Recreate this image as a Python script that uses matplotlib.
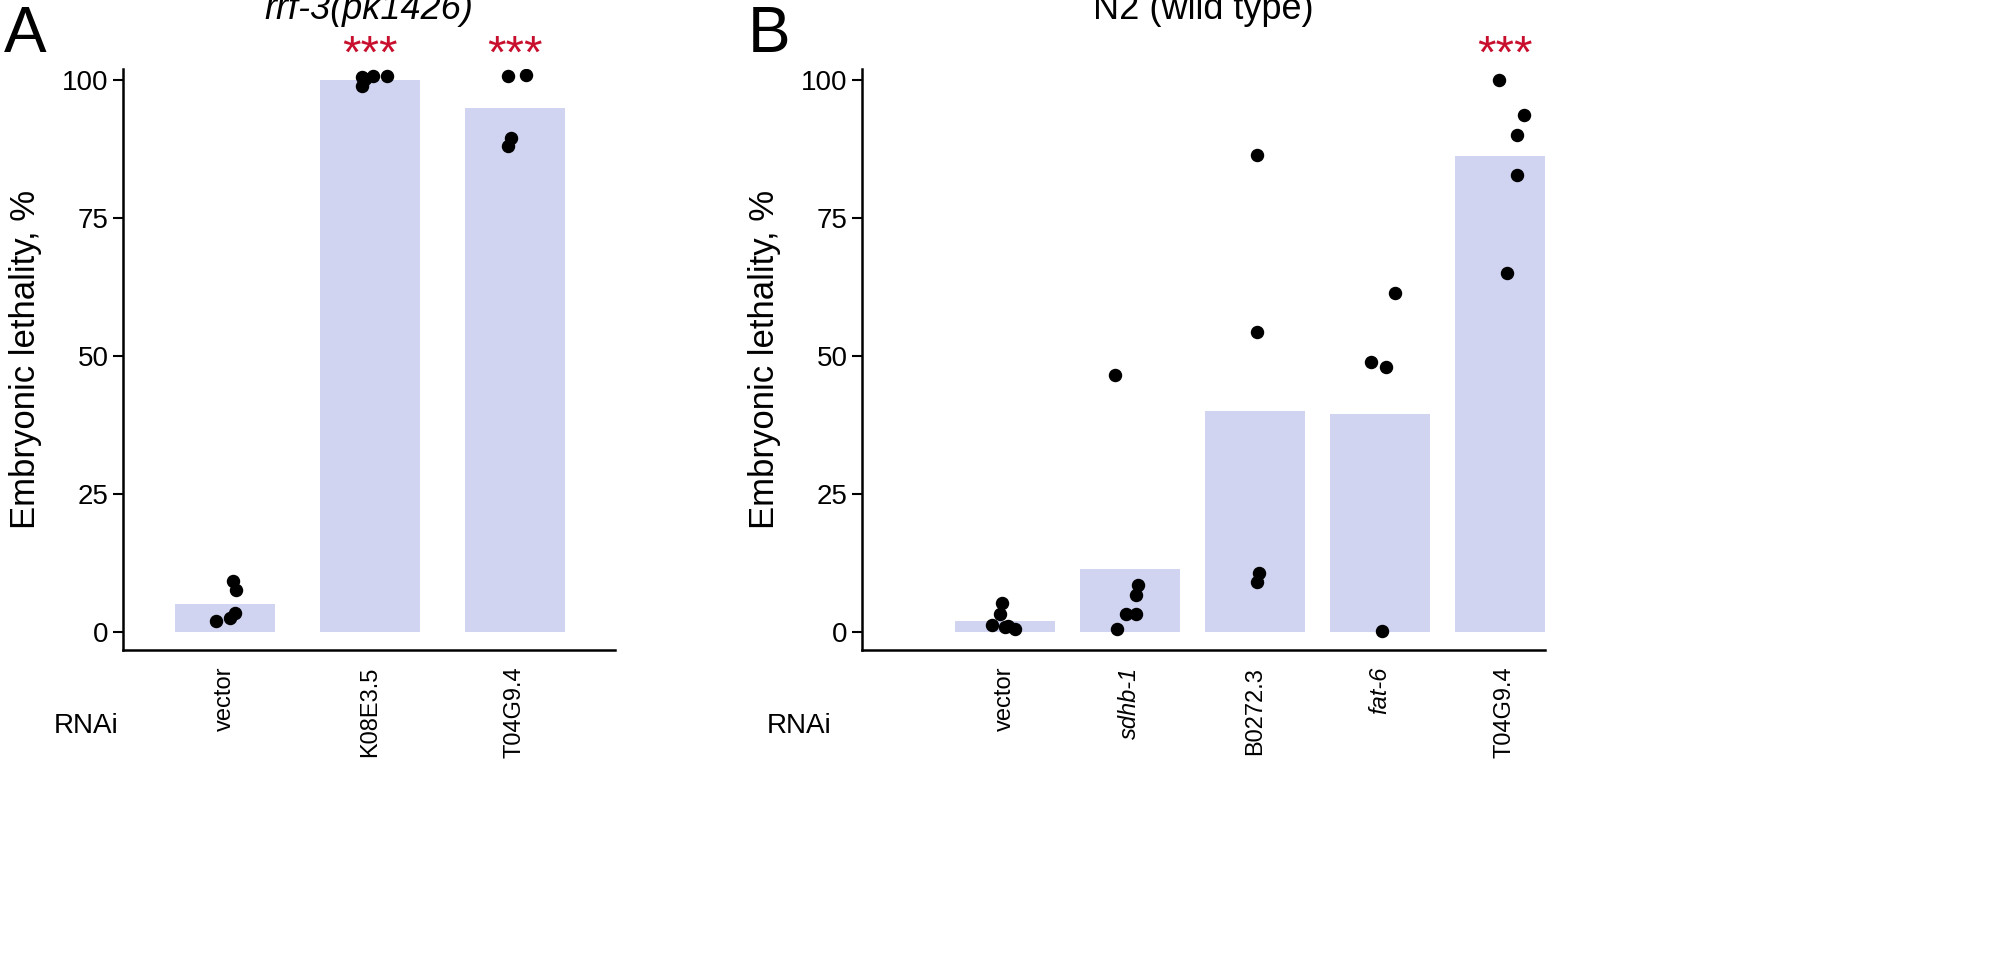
import matplotlib
matplotlib.use("Agg")
import matplotlib.pyplot as plt

plt.rcParams['font.family'] = ['Liberation Sans', 'DejaVu Sans']

a_cats = ["vector", "K08E3.5", "T04G9.4"]
a_italic = [False, False, False]
a_bars = [5, 100, 95]
a_points = [[2, 2.5, 3.5, 7.5, 9.2], [99, 100.5, 100.7, 100.8, 100.3], [88, 89.5, 100.8, 100.9]]
a_jit = [[-0.06, 0.04, 0.07, 0.08, 0.06], [-0.05, -0.05, 0.02, 0.12, -0.03], [-0.05, -0.03, -0.05, 0.08]]
a_sig = ["", "***", "***"]

b_cats = ["vector", "sdhb-1", "B0272.3", "fat-6", "T04G9.4"]
b_italic = [False, True, False, True, False]
b_bars = [2, 11.3, 40, 39.5, 86.3]
b_points = [[5.2, 3.3, 1.2, 0.9, 1.1, 0.5], [46.5, 8.5, 6.7, 3.2, 3.3, 0.6],
            [86.5, 54.4, 10.6, 9.1], [61.5, 49, 48, 0.1], [100, 93.7, 90, 82.8, 65]]
b_jit = [[-0.02, -0.04, -0.1, 0.0, 0.03, 0.08], [-0.12, 0.07, 0.05, -0.03, 0.05, -0.1],
         [0.02, 0.02, 0.03, 0.02], [0.12, -0.07, 0.05, 0.02], [-0.05, 0.15, 0.1, 0.1, 0.02]]
b_sig = ["", "", "", "", "***"]

bar_color = "#d0d4f1"

fig = plt.figure(figsize=(20, 9.68), dpi=100)

def panel(rect, cats, italic, bars, pts, jit, sig, width, xlim, title, tstyle, letter, lx):
    ax = fig.add_axes(rect)
    x = list(range(len(cats)))
    ax.bar(x, bars, width=width, color=bar_color, zorder=1)
    for i in x:
        ax.scatter([i + j for j in jit[i]], pts[i], s=75, color="black", zorder=3)
        if sig[i]:
            ax.text(i, 104.5, sig[i], color="#c8102e", ha="center", va="center",
                    fontsize=34, clip_on=False)
    ax.set_xlim(*xlim)
    ax.set_ylim(-3.3, 102)
    ax.set_yticks([0, 25, 50, 75, 100])
    ax.set_xticks(x)
    ax.set_xticklabels(cats, rotation=90, fontsize=17)
    for lab, it in zip(ax.get_xticklabels(), italic):
        if it:
            lab.set_style("italic")
    ax.tick_params(axis="y", labelsize=20, length=7, width=1.5)
    ax.tick_params(axis="x", length=0, pad=12)
    for s in ["top", "right"]:
        ax.spines[s].set_visible(False)
    for s in ["left", "bottom"]:
        ax.spines[s].set_linewidth(1.8)
    ax.set_ylabel("Embryonic lethality, %", fontsize=25, labelpad=14)
    ax.set_title(title, fontsize=26, style=tstyle, pad=36)
    ax.text(-0.14, -0.13, "RNAi", transform=ax.transAxes, fontsize=20, va="center")
    fig.text(lx, 0.995, letter, fontsize=46, va="top", ha="left")
    return ax

panel([0.0615, 0.3285, 0.246, 0.6], a_cats, a_italic, a_bars, a_points, a_jit, a_sig,
      0.69, (-0.7, 2.69), "rrf-3(pk1426)", "italic", "A", 0.002)
panel([0.431, 0.3285, 0.3415, 0.6], b_cats, b_italic, b_bars, b_points, b_jit, b_sig,
      0.8, (-1.14, 4.32), "N2 (wild type)", "normal", "B", 0.374)

fig.savefig("out.png", dpi=100)
